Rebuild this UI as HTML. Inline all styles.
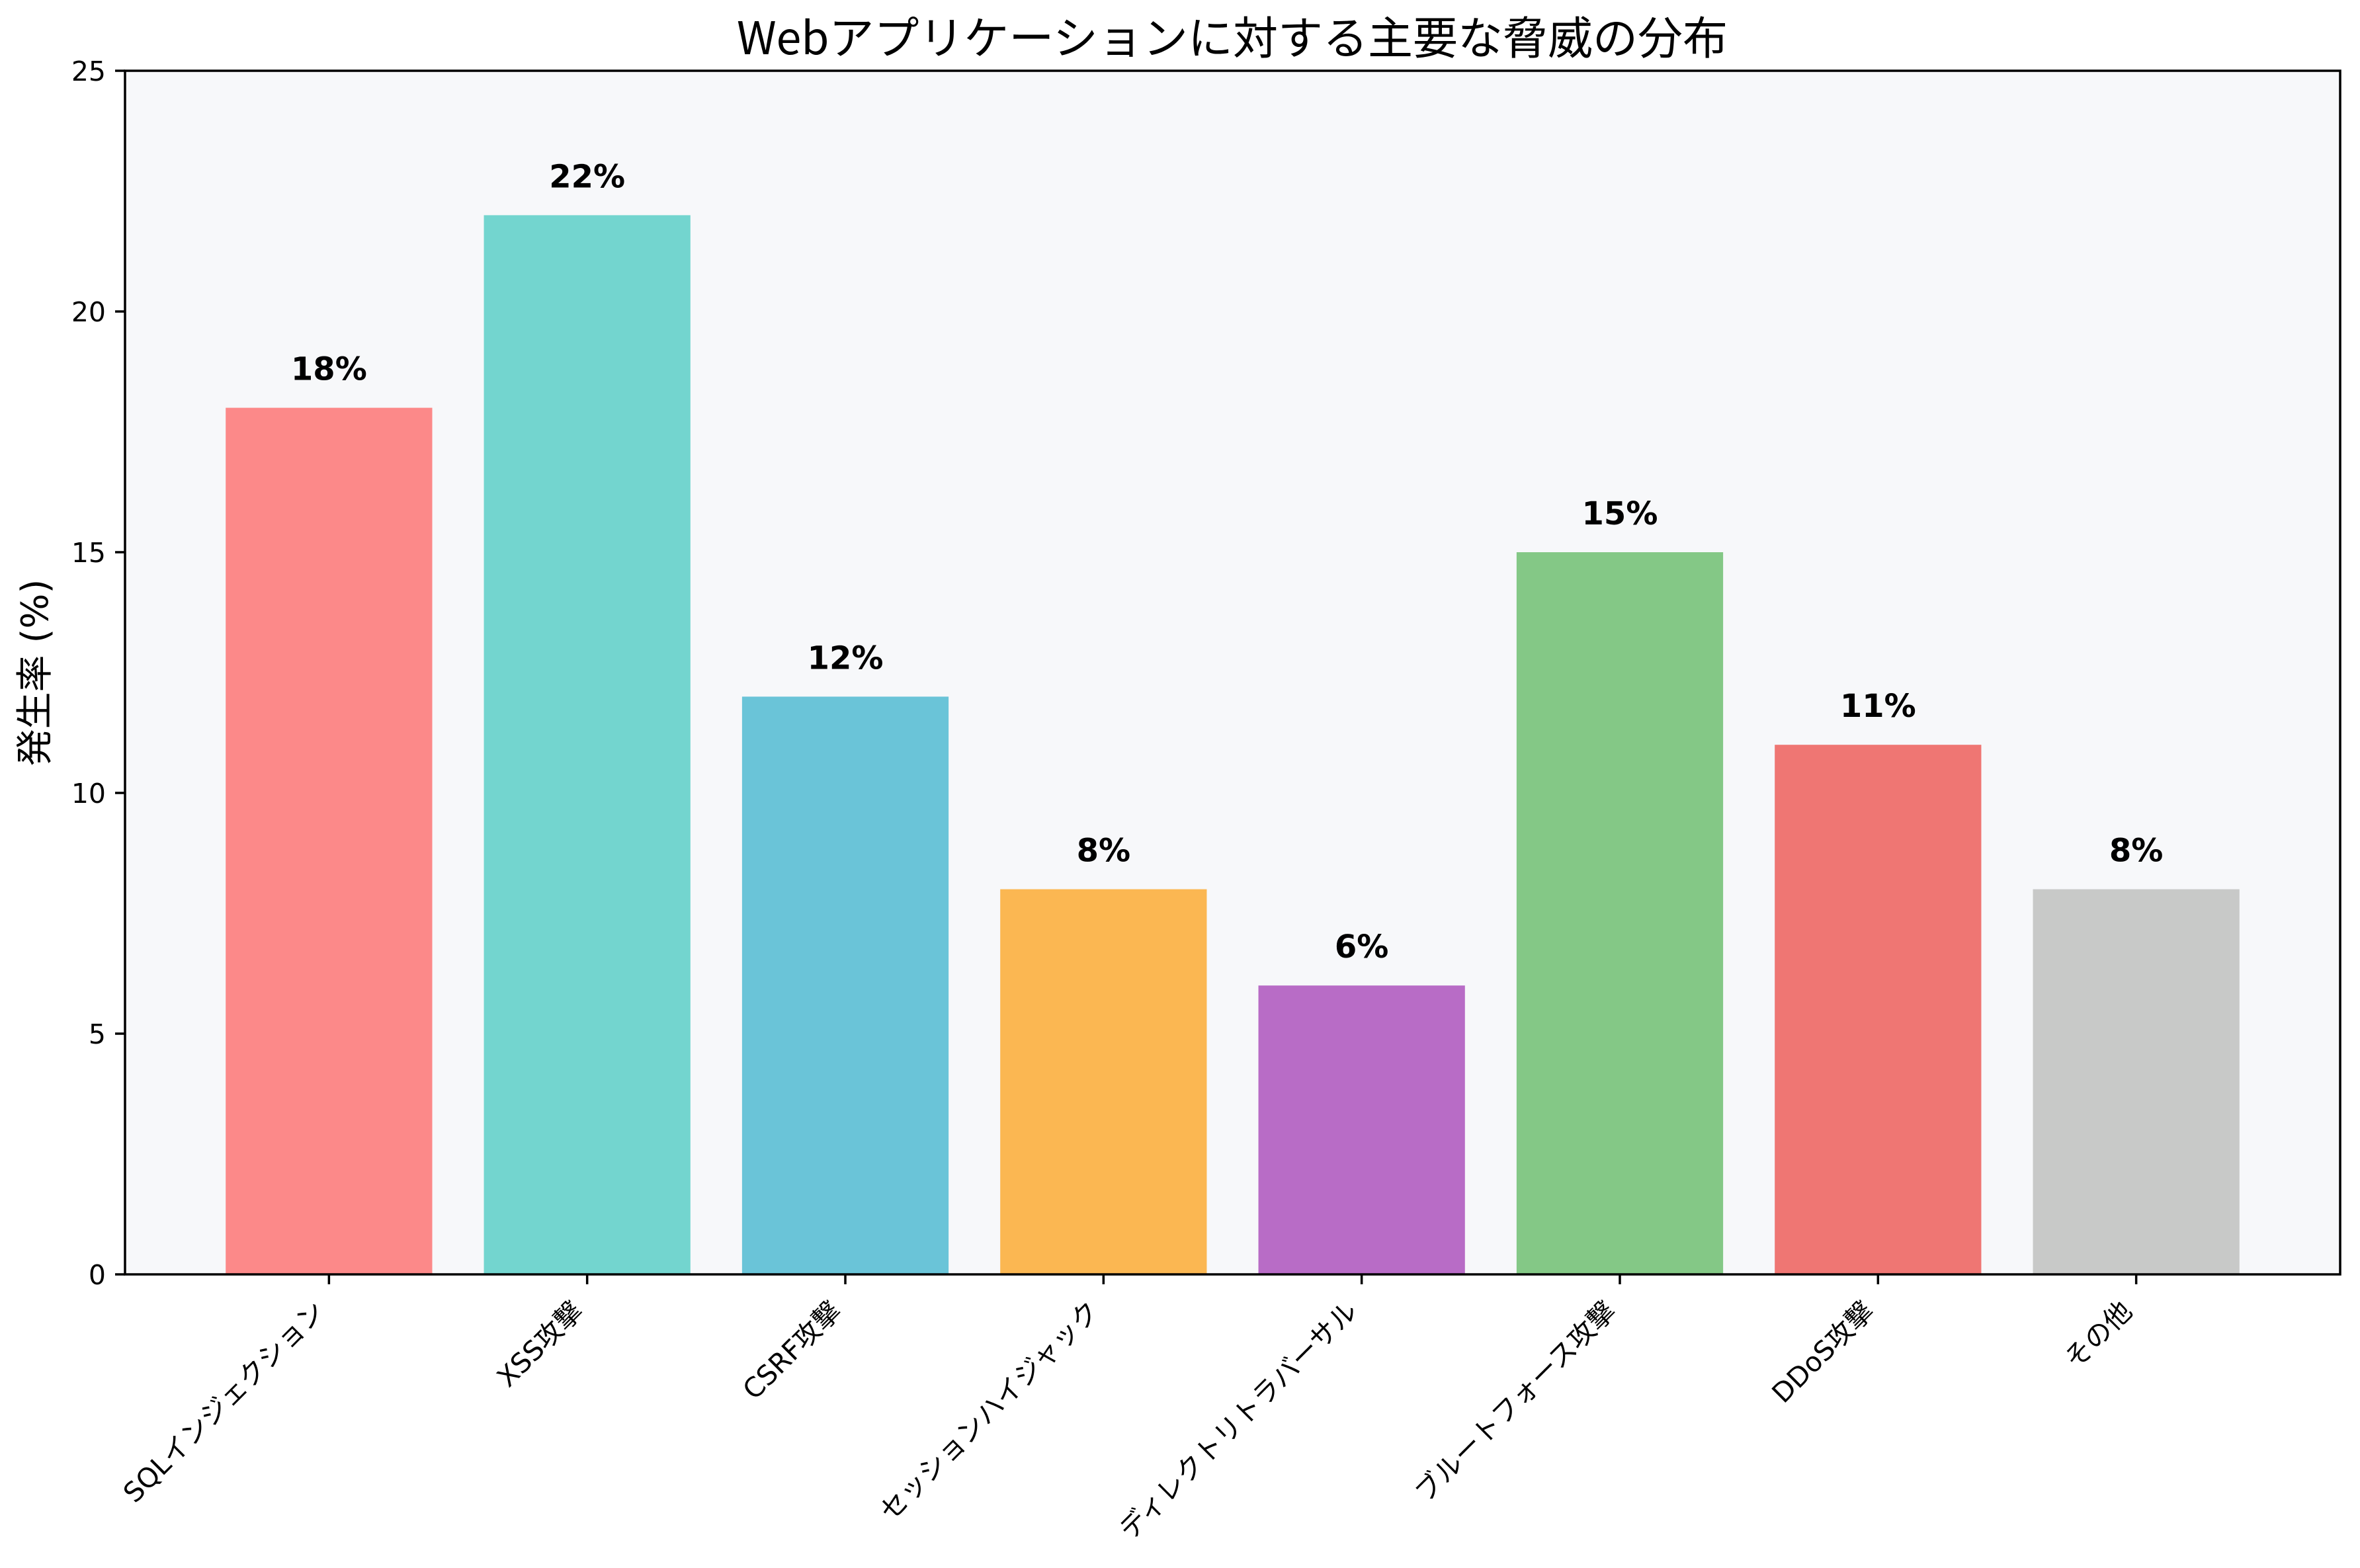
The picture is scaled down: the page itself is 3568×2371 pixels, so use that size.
<!DOCTYPE html>
<html><head><meta charset="utf-8">
<style>
html,body{margin:0;padding:0;background:#fff;}
svg{display:block;}
text{font-family:"DejaVu Sans","Liberation Sans","Noto Sans CJK JP",sans-serif;fill:#000;}
.cjk{font-family:"Noto Sans CJK JP","DejaVu Sans",sans-serif;}
</style></head>
<body>
<svg id="chart" width="3568" height="2371" viewBox="0 0 3568 2371" xmlns="http://www.w3.org/2000/svg">
<rect x="0" y="0" width="3568" height="2371" fill="#ffffff"/>
<rect x="189" y="107" width="3349" height="1820" fill="#f7f8fa"/>
<g id="bars"></g>
<g id="values"></g>
<g id="yticks"></g>
<g id="xticks"></g>
<rect x="189" y="107" width="3349" height="1820" fill="none" stroke="#000" stroke-width="3.5"/>
<text class="cjk" x="1863" y="82" font-size="68" text-anchor="middle">Webアプリケーションに対する主要な脅威の分布</text>
<text font-size="56" text-anchor="middle" transform="translate(72,1017) rotate(-90)">発生率 (%)</text>
</svg>
<script>
const categories = ["SQLインジェクション","XSS攻撃","CSRF攻撃","セッションハイジャック","ディレクトリトラバーサル","ブルートフォース攻撃","DDoS攻撃","その他"];
const values = [18,22,12,8,6,15,11,8];
const valueLabels = ["18%","22%","12%","8%","6%","15%","11%","8%"];
const colors = ["#fc8989","#73d5cf","#6ac4d8","#fbb752","#b86cc6","#84c886","#ef7673","#c8c9c8"];
const yTicks = [0,5,10,15,20,25];

const NS = "http://www.w3.org/2000/svg";
const X0 = 189, X1 = 3538, Y0 = 1927, Y1 = 107;
const xMin = -0.79, xMax = categories.length - 1 + 0.79;
const yMin = 0, yMax = 25;
function xScale(i){ return X0 + (i - xMin) / (xMax - xMin) * (X1 - X0); }
function yScale(v){ return Y0 - (v - yMin) / (yMax - yMin) * (Y0 - Y1); }
const bw = 0.8 * (xScale(1) - xScale(0));

function mk(tag, attrs){ const e = document.createElementNS(NS, tag); for (const k in attrs) e.setAttribute(k, attrs[k]); return e; }

const gb = document.getElementById("bars");
const gv = document.getElementById("values");
const gy = document.getElementById("yticks");
const gx = document.getElementById("xticks");

values.forEach((v, i) => {
  const cx = xScale(i);
  const r = mk("rect", {x: cx - bw/2, y: yScale(v), width: bw, height: yScale(0) - yScale(v), fill: colors[i]});
  
  
  gb.appendChild(r);
  const t = mk("text", {x: cx, y: yScale(v) - 42, "font-size": 48, "font-weight": "bold", "text-anchor": "middle"});
  t.textContent = valueLabels[i];
  
  
  gv.appendChild(t);
  const tk = mk("line", {x1: cx, x2: cx, y1: Y0, y2: Y0 + 15, stroke: "#000", "stroke-width": 3.5});
  
  
  gx.appendChild(tk);
  const px = cx - 4, py = 1958 + 27;
  const lt = mk("text", {x: px, y: py, "font-size": 41, "text-anchor": "end", transform: "rotate(-45 " + px + " " + py + ")"});
  lt.textContent = categories[i];
  
  
  gx.appendChild(lt);
});

yTicks.forEach((v) => {
  const y = yScale(v);
  const tk = mk("line", {x1: X0 - 15, x2: X0, y1: y, y2: y, stroke: "#000", "stroke-width": 3.5});
  
  
  gy.appendChild(tk);
  const t = mk("text", {x: X0 - 29, y: y + 15, "font-size": 41, "text-anchor": "end"});
  t.textContent = String(v);
  
  
  gy.appendChild(t);
});
</script>
</body></html>
